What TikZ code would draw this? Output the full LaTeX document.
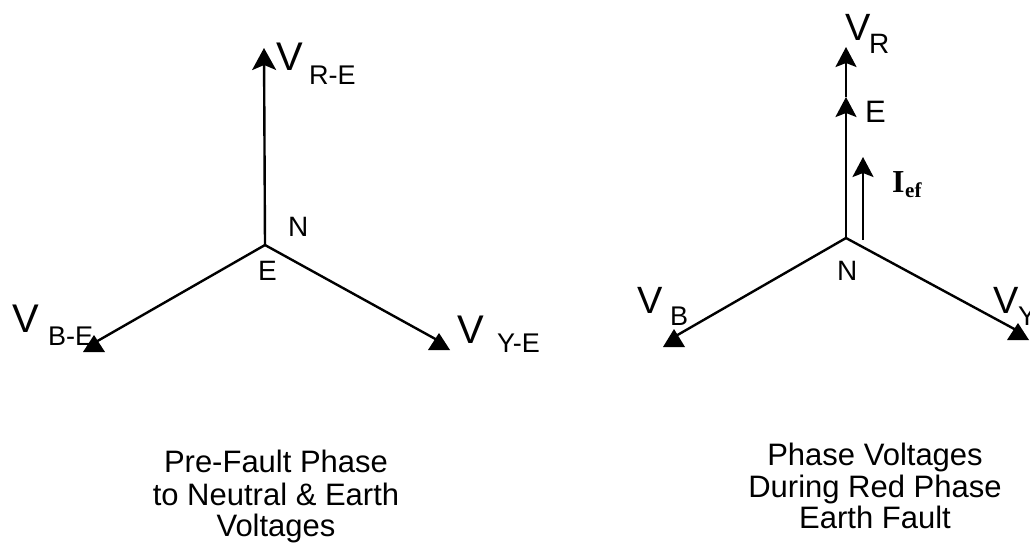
\documentclass[tikz,border=0pt]{standalone}
\usepackage{fontspec}
\setmainfont{Liberation Sans}
\newfontfamily\serifbold{Liberation Serif}
\usetikzlibrary{arrows.meta}
\begin{document}
\begin{tikzpicture}[x=1pt,y=-1pt,line width=2.4pt,
  lbl/.style={inner sep=0pt,anchor=base west},
  bigv/.style={lbl,font=\fontsize{40}{40}\selectfont},
  subv/.style={lbl,font=\fontsize{27}{27}\selectfont},
  ptlbl/.style={lbl,font=\fontsize{28}{28}\selectfont},
  captxt/.style={inner sep=0pt,anchor=base,font=\fontsize{31}{31}\selectfont},
  phasor/.style={line width=2.4pt},
  tiparrow/.style={-{Stealth[length=22pt,width=24pt,inset=5pt]}},
  smalltip/.style={-{Stealth[length=20pt,width=21pt,inset=4pt]}}]
\useasboundingbox (0,0) rectangle (1030,544);
\fill[white] (0,0) rectangle (1030,544);

% ---------- left diagram ----------
\coordinate (E0) at (265,245);
\coordinate (R0) at (264,48);
\coordinate (B0) at (94,343);
\coordinate (Y0) at (439,341);
\draw[phasor,tiparrow] (E0) -- (R0);
\draw[phasor] (E0) -- (B0);
\draw[phasor] (E0) -- (Y0);
\fill[shift={(B0)}] (-11,9) -- (0,-8) -- (11,9) -- cycle;
\fill[shift={(Y0)}] (-11,9) -- (0,-8) -- (11,9) -- cycle;

\node[bigv] (lvr) at (275,70) {V};
\node[subv] (lvrs) at (308,84) {R-E};
\node[ptlbl] (lN) at (287,236) {N};
\node[ptlbl] (lE) at (257,280) {E};
\node[bigv] (lvb) at (11,332) {V};
\node[subv] (lvbs) at (47,345) {B-E};
\node[bigv] (lvy) at (456,343) {V};
\node[subv] (lvys) at (496,352) {Y-E};

\node[captxt] (c1) at (276,472) {Pre-Fault Phase};
\node[captxt] (c2) at (276,505) {to Neutral \& Earth};
\node[captxt] (c3) at (276,536) {Voltages};

% ---------- right diagram ----------
\coordinate (N1) at (846,238);
\coordinate (Em) at (846,97);
\coordinate (R1) at (846,47);
\coordinate (I0) at (863,240);
\coordinate (I1) at (863,157);
\coordinate (B1) at (674,337);
\coordinate (Y1) at (1018,331);
\draw[phasor,smalltip] (N1) -- (Em);
\draw[phasor,smalltip] (Em) -- (R1);
\draw[phasor,smalltip] (I0) -- (I1);
\draw[phasor] (N1) -- (B1);
\draw[phasor] (N1) -- (Y1);
\fill[shift={(B1)}] (-11,10) -- (0,-8) -- (11,10) -- cycle;
\fill[shift={(Y1)}] (-11,9) -- (0,-8) -- (11,9) -- cycle;

\node[lbl,font=\fontsize{38}{38}\selectfont] (rvr) at (844,40) {V};
\node[lbl,font=\fontsize{28}{28}\selectfont] (rvrs) at (868,53) {R};
\node[lbl,font=\fontsize{31}{31}\selectfont] (rE) at (864,122) {E};
\node[lbl,font=\serifbold\bfseries\fontsize{32}{32}\selectfont] (rI) at (891,192) {I};
\node[lbl,font=\serifbold\bfseries\fontsize{21}{21}\selectfont] (rIs) at (904,197) {ef};
\node[ptlbl] (rN) at (836,280) {N};
\node[lbl,font=\fontsize{38}{38}\selectfont] (rvb) at (636,313) {V};
\node[subv] (rvbs) at (669,325) {B};
\node[lbl,font=\fontsize{38}{38}\selectfont] (rvy) at (992,313) {V};
\node[subv] (rvys) at (1017,325) {Y};

\node[captxt] (d1) at (875,465) {Phase Voltages};
\node[captxt] (d2) at (875,497) {During Red Phase};
\node[captxt] (d3) at (875,528) {Earth Fault};
\end{tikzpicture}
\end{document}
